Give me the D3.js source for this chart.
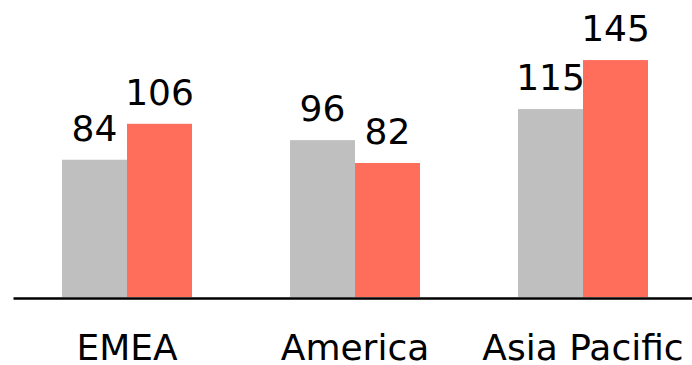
<!DOCTYPE html>
<html>
<head>
<meta charset="utf-8">
<script src="https://cdn.jsdelivr.net/npm/d3@7"></script>
<style>
  body { margin: 0; background: #fff; }
  svg text { font-family: "DejaVu Sans", Verdana, sans-serif; fill: #000; }
</style>
</head>
<body>
<script>
var categories = ["EMEA", "America", "Asia Pacific"];
var seriesNames = ["Series 1", "Series 2"];
var series1 = [84, 96, 115];
var series2 = [106, 82, 145];
var colors = ["#bfbfbf", "#ff6e5a"];

var width = 692, height = 365;
var baseY = 297;

var rows = categories.map(function (c, i) {
  return { cat: c, values: [series1[i], series2[i]] };
});

var svg = d3.select("body").append("svg")
    .attr("width", width)
    .attr("height", height);

var x0 = d3.scaleBand()
    .domain(categories)
    .range([13, 697])
    .paddingInner(0.43)
    .paddingOuter(0.215);

var x1 = d3.scaleBand()
    .domain(d3.range(seriesNames.length))
    .range([0, x0.bandwidth()]);

var y = d3.scaleLinear()
    .domain([0, 150])
    .range([baseY, baseY - 150 * 1.634]);

var groups = svg.selectAll("g.grp")
    .data(rows)
  .enter().append("g")
    .attr("class", "grp")
    .attr("transform", function (d) { return "translate(" + x0(d.cat) + ",0)"; });

groups.selectAll("rect")
    .data(function (d) { return d.values; })
  .enter().append("rect")
    .attr("x", function (d, i) { return x1(i); })
    .attr("y", function (d) { return y(d); })
    .attr("width", x1.bandwidth())
    .attr("height", function (d) { return y(0) - y(d); })
    .attr("fill", function (d, i) { return colors[i]; });

groups.selectAll("text.val")
    .data(function (d) { return d.values; })
  .enter().append("text")
    .attr("class", "val")
    .attr("x", function (d, i) { return x1(i) + x1.bandwidth() / 2; })
    .attr("y", function (d) { return y(d) - 19; })
    .attr("text-anchor", "middle")
    .attr("font-size", "36px")
    .text(function (d) { return d; });

// category axis
var axis = svg.append("g")
    .attr("transform", "translate(0," + (baseY + 1) + ")")
    .call(d3.axisBottom(x0).tickSize(0).tickSizeOuter(0));

axis.select(".domain")
    .attr("stroke", "#000")
    .attr("stroke-width", 2.5);

axis.selectAll(".tick text")
    .attr("y", 62)
    .attr("dy", 0)
    .attr("font-size", "36px")
    .attr("font-family", "DejaVu Sans, Verdana, sans-serif")
    .attr("fill", "#000");
</script>
</body>
</html>
